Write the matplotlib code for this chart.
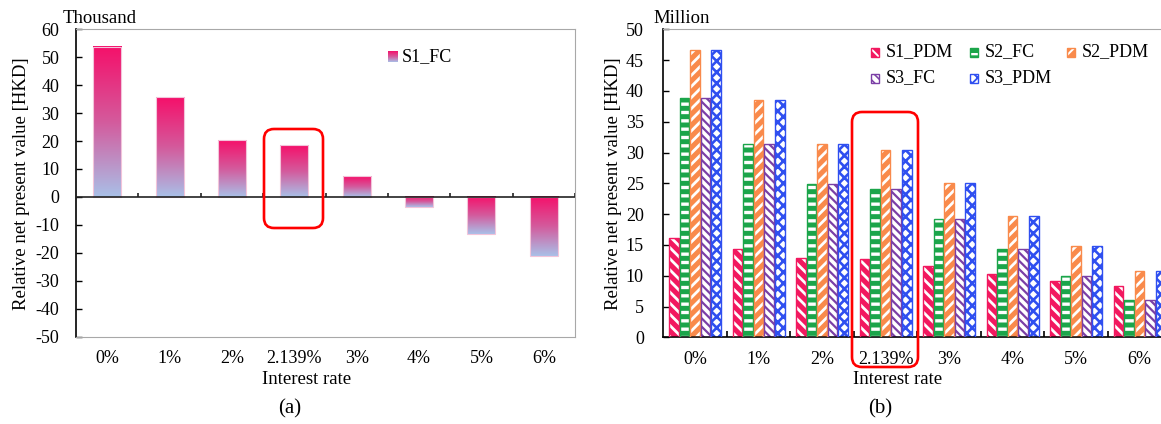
import numpy as np
import matplotlib.pyplot as plt
from matplotlib.colors import LinearSegmentedColormap
from matplotlib.patches import FancyBboxPatch, Rectangle
from matplotlib.transforms import IdentityTransform

plt.rcParams['font.family'] = ['Liberation Serif', 'DejaVu Serif']
plt.rcParams['axes.unicode_minus'] = False

# data
rates = ['0%', '1%', '2%', '2.139%', '3%', '4%', '5%', '6%']
s1_fc = [53.8, 35.6, 20.4, 18.4, 7.4, -3.8, -13.3, -21.3]          # thousand HKD

s1_pdm = [16.2, 14.4, 12.8, 12.7, 11.5, 10.3, 9.2, 8.3]             # million HKD
s2_fc = [38.9, 31.4, 24.9, 24.0, 19.2, 14.3, 9.9, 6.1]
s2_pdm = [46.7, 38.5, 31.4, 30.4, 25.1, 19.7, 14.9, 10.7]
s3_fc = [38.9, 31.4, 24.9, 24.0, 19.2, 14.3, 9.9, 6.1]
s3_pdm = [46.7, 38.5, 31.4, 30.4, 25.1, 19.7, 14.9, 10.7]

W, H = 1161, 424
fig = plt.figure(figsize=(W / 100, H / 100), dpi=100)
x = np.arange(len(rates))
grad_cmap = LinearSegmentedColormap.from_list('pb', ['#F5106A', '#D45A9C', '#A9C0E8'])
grad = np.linspace(0, 1, 256)[:, None]

# ---------------- (a) ----------------
ax1 = fig.add_axes([76 / W, 1 - 336.5 / H, 499 / W, 307.2 / H])
bars = ax1.bar(x, s1_fc, width=0.45, color='none', edgecolor='#F2C4DA', linewidth=0.8, zorder=3)
for b in bars:
    y0, y1 = sorted([b.get_y(), b.get_y() + b.get_height()])
    ax1.imshow(grad, cmap=grad_cmap, aspect='auto', zorder=2,
               extent=[b.get_x(), b.get_x() + b.get_width(), y0, y1])
ax1.axhline(0, color='#222222', lw=1.2, zorder=4)
ax1.vlines(np.arange(0.5, 8, 1), 0, 1.5, color='#222222', lw=1.2, zorder=4)
ax1.set_xlim(-0.5, 7.5)
ax1.set_ylim(-50, 60)
ax1.set_yticks(range(-50, 61, 10))
ax1.set_xticks(x, rates)
ax1.tick_params(axis='x', length=0, pad=10, labelsize=13)
ax1.tick_params(axis='y', direction='in', length=4, width=1, pad=12, labelsize=13)
for s in ['top', 'right', 'bottom']:
    ax1.spines[s].set_color('#A8A8A8')
ax1.spines['left'].set_linewidth(1.2)

# legend (a)
ax1.imshow(grad, cmap=grad_cmap, aspect='auto', zorder=5, extent=[4.5, 4.65, 48.3, 52.0])
ax1.text(4.73, 50.1, 'S1_FC', fontsize=13, va='center', ha='left')

# ---------------- (b) ----------------
ax2 = fig.add_axes([663.3 / W, 1 - 337.3 / H, 508 / W, 308 / H])
# name, values, colour, hatch, white hatch on colour?, hatch linewidth
series = [
    ('S1_PDM', s1_pdm, '#F2185F', '\\\\\\', True, 2.0),
    ('S2_FC', s2_fc, '#1BA54A', '--', True, 2.4),
    ('S2_PDM', s2_pdm, '#F98A4B', '///', True, 2.0),
    ('S3_FC', s3_fc, '#7B3FA6', '\\\\\\\\', False, 1.6),
    ('S3_PDM', s3_pdm, '#2F4FF0', 'xxx', False, 1.9),
]
step, bw = 0.167, 0.15


def hatched(ax, xpos, vals, color, hatch, white, hlw):
    with plt.rc_context({'hatch.linewidth': hlw}):
        if white:
            ax.bar(xpos, vals, bw, color=color, edgecolor='white', hatch=hatch, linewidth=0, zorder=2)
        else:
            ax.bar(xpos, vals, bw, color='white', edgecolor=color, hatch=hatch, linewidth=0, zorder=2)
    ax.bar(xpos, vals, bw, fill=False, edgecolor=color, linewidth=1.0, zorder=3)


for i, (name, vals, color, hatch, white, hlw) in enumerate(series):
    hatched(ax2, x + (i - 2) * step, vals, color, hatch, white, hlw)

ax2.set_xlim(-0.5, 7.5)
ax2.set_ylim(0, 50)
ax2.set_yticks(range(0, 51, 5))
ax2.set_xticks(x, rates)
ax2.set_xticks(np.arange(0.5, 8, 1), minor=True)
ax2.tick_params(axis='x', which='major', length=0, pad=10, labelsize=13)
ax2.tick_params(axis='x', which='minor', direction='in', length=4, width=1.2)
ax2.tick_params(axis='y', direction='in', length=4, width=1, pad=14, labelsize=13)
for s in ['top', 'right']:
    ax2.spines[s].set_color('#A8A8A8')
ax2.spines['left'].set_linewidth(1.2)
ax2.spines['bottom'].set_linewidth(1.2)

# legend (b), pixel positions
leg_pos = [(871, 52), (970, 52), (1067, 52), (871, 78), (970, 78)]
for (name, vals, color, hatch, white, hlw), (px, py) in zip(series, leg_pos):
    with plt.rc_context({'hatch.linewidth': hlw * 0.7}):
        if white:
            r = Rectangle((px, H - py - 4.5), 8, 9, facecolor=color, edgecolor='white', hatch=hatch,
                          linewidth=0, transform=IdentityTransform())
        else:
            r = Rectangle((px, H - py - 4.5), 8, 9, facecolor='white', edgecolor=color, hatch=hatch,
                          linewidth=0, transform=IdentityTransform())
    fig.add_artist(r)
    fig.add_artist(Rectangle((px, H - py - 4.5), 8, 9, fill=False, edgecolor=color, linewidth=1,
                             transform=IdentityTransform()))
    fig.text(px + 15, H - py, name, fontsize=13, va='center', ha='left', transform=IdentityTransform())

# texts
fig.text(63 / W, 1 - 23 / H, 'Thousand', fontsize=13.5, va='baseline', ha='left')
fig.text(653 / W, 1 - 23 / H, 'Million', fontsize=13.5, va='baseline', ha='left')
fig.text(22 / W, 1 - 184 / H, 'Relative net present value [HKD]', fontsize=13.5,
         rotation=90, va='center', ha='center')
fig.text(613.5 / W, 1 - 184 / H, 'Relative net present value [HKD]', fontsize=13.5,
         rotation=90, va='center', ha='center')
fig.text(307 / W, 1 - 380 / H, 'Interest rate', fontsize=13.5, va='center', ha='center')
fig.text(898 / W, 1 - 380 / H, 'Interest rate', fontsize=13.5, va='center', ha='center')
fig.text(290 / W, 1 - 409 / H, '(a)', fontsize=15, va='center', ha='center')
fig.text(880 / W, 1 - 409 / H, '(b)', fontsize=15, va='center', ha='center')

# red highlight boxes around 2.139%
for bx, by, bwid, bh in [(264, H - 228, 59, 99), (852, H - 367, 66, 255)]:
    fig.add_artist(FancyBboxPatch((bx, by), bwid, bh, boxstyle='round,pad=0,rounding_size=10',
                                  fill=False, edgecolor='#FF0000', linewidth=1.9,
                                  transform=IdentityTransform(), zorder=10))

fig.savefig('out.png', dpi=100)
